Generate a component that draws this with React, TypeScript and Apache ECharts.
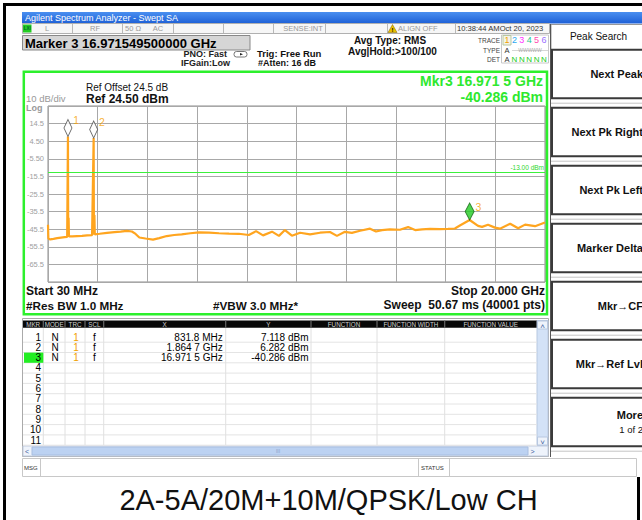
import React, { useEffect, useRef } from "react";
import * as echarts from "echarts";

// ---------- data ----------
const traceFreqGHz = [
  0.03, 0.045, 0.12, 0.25, 0.4, 0.55, 0.7, 0.8, 0.8318, 0.842, 0.858, 0.872,
  1.0, 1.2, 1.4, 1.6, 1.8, 1.8647, 1.875, 1.895, 1.91, 2.1, 2.4, 2.7, 2.95,
  3.2, 3.4, 3.55, 3.7, 3.95, 4.25, 4.5, 4.8, 5.1, 5.4, 5.75, 6.1, 6.5, 6.9,
  7.3, 7.7, 8.1, 8.39, 8.67, 9.03, 9.31, 9.55, 9.83, 10.16, 10.56, 10.96,
  11.36, 11.64, 11.96, 12.24, 12.57, 12.97, 13.21, 13.45, 13.77, 14.17, 14.5,
  14.78, 15.06, 15.38, 15.78, 16.1, 16.38, 16.58, 16.9715, 17.31, 17.47, 17.71,
  17.99, 18.19, 18.6, 18.92, 19.2, 19.6, 20.0,
];
const traceLevelDbm = [
  -43.0, -50.8, -51.3, -51.0, -50.6, -50.3, -50.0, -49.9, 7.118, -49.6, -39.0,
  -49.6, -49.6, -49.4, -49.3, -49.0, -48.9, 6.282, -48.6, -37.5, -48.4, -48.1,
  -47.6, -47.2, -46.9, -46.5, -46.8, -48.2, -50.2, -50.8, -51.4, -50.6, -49.4,
  -48.8, -48.4, -47.8, -47.3, -47.5, -47.8, -48.0, -48.1, -48.8, -46.6, -49.0,
  -46.9, -49.3, -46.0, -49.2, -47.5, -48.4, -47.5, -47.1, -49.3, -47.0, -47.6,
  -46.4, -45.2, -46.8, -46.0, -45.6, -45.8, -44.3, -46.0, -45.6, -45.3, -45.5,
  -45.3, -45.1, -43.4, -40.286, -43.6, -44.2, -43.0, -44.6, -45.2, -42.4, -45.0,
  -42.9, -43.8, -41.7,
];
const markerNames = ["1", "2", "3"];
const markerFreqGHz = [0.8318, 1.8647, 16.9715];
const markerLevelDbm = [7.118, 6.282, -40.286];
const markerXText = ["831.8 MHz", "1.864 7 GHz", "16.971 5 GHz"];
const markerYText = ["7.118 dBm", "6.282 dBm", "-40.286 dBm"];
const yTickLabels = ["14.5", "4.50", "-5.50", "-15.5", "-25.5", "-35.5", "-45.5", "-55.5", "-65.5"];
const limitDbm = -13;
const refLevelDbm = 24.5;
const dbPerDiv = 10;
const startGHz = 0.03;
const stopGHz = 20;
const softKeys = ["Next Peak", "Next Pk Right", "Next Pk Left", "Marker Delta", "Mkr\u2192CF", "Mkr\u2192Ref Lvl"];
const tableHeaders = ["MKR", "MODE", "TRC", "SCL", "X", "Y", "FUNCTION", "FUNCTION WIDTH", "FUNCTION VALUE"];

// ---------- helpers ----------
const FONT = '"Liberation Sans", Arial, sans-serif';
const txt = (text: string, x: number, y: number, size: number, o: any = {}) => ({
  type: "text",
  x,
  y,
  silent: true,
  z: 20,
  style: {
    text,
    fill: o.color ?? "#000",
    fontSize: size,
    fontWeight: o.weight ?? "normal",
    fontFamily: o.family ?? FONT,
    align: o.align ?? "left",
    verticalAlign: "middle",
    textAlign: o.align ?? "left",
    textVerticalAlign: "middle",
  },
});
const rect = (x: number, y: number, w: number, h: number, fill: any, stroke?: string, lw = 1, z = 5) => ({
  type: "rect",
  silent: true,
  z,
  shape: { x, y, width: w, height: h },
  style: { fill, stroke: stroke ?? "none", lineWidth: lw },
});
const ln = (x1: number, y1: number, x2: number, y2: number, stroke: string, lw = 1, z = 6) => ({
  type: "line",
  silent: true,
  z,
  shape: { x1, y1, x2, y2 },
  style: { stroke, lineWidth: lw },
});

function buildGraphics() {
  const g: any[] = [];
  // outer frame
  g.push(rect(3, 3, 639, 3, "#000", undefined, 1, 30));
  g.push(rect(3, 3, 3, 517, "#000", undefined, 1, 30));
  g.push(rect(637, 477, 3, 43, "#000", undefined, 1, 30));
  // title bar
  g.push(
    rect(22, 12, 620, 11.5, {
      type: "linear", x: 0, y: 0, x2: 0, y2: 1,
      colorStops: [{ offset: 0, color: "#4a8ff0" }, { offset: 1, color: "#1e60d6" }],
    })
  );
  g.push(txt("Agilent Spectrum Analyzer - Swept SA", 25, 18, 9, { color: "#fff" }));
  // status row
  g.push(rect(22.5, 23.5, 527, 10, "#f6f6f6", "#b0b0b0"));
  [72, 122, 173, 223, 273, 325, 387, 455].forEach((x) => g.push(ln(x + 0.5, 24, x + 0.5, 33, "#b8b8b8")));
  g.push(rect(23, 24.5, 8.5, 8, "#22cc22"));
  g.push(txt("LXI", 27.2, 28.6, 4.5, { align: "center", weight: "bold", color: "#063" }));
  g.push(txt("L", 47, 28.7, 7.5, { align: "center", color: "#999" }));
  g.push(txt("RF", 95, 28.7, 7.5, { align: "center", color: "#999" }));
  g.push(txt("50 \u03A9", 133, 28.7, 7.5, { align: "center", color: "#999" }));
  g.push(txt("AC", 158, 28.7, 7.5, { align: "center", color: "#999" }));
  g.push(txt("SENSE:INT", 303, 28.7, 7.5, { align: "center", color: "#999" }));
  g.push({ type: "polygon", silent: true, z: 8, shape: { points: [[392.5, 24.5], [388, 32.5], [397, 32.5]] }, style: { fill: "#e8c000", stroke: "#806000", lineWidth: 0.5 } });
  g.push(txt("!", 392.5, 29.5, 6, { align: "center", weight: "bold" }));
  g.push(txt("ALIGN OFF", 398, 28.7, 7.5, { color: "#999" }));
  g.push(txt("10:38:44 AMOct 20, 2023", 457, 28.7, 7.6, { color: "#333" }));
  // marker readout box
  g.push(rect(22.5, 35.5, 227.5, 14.5, "#d6d6d6", "#888"));
  g.push(txt("Marker 3 16.971549500000 GHz", 25, 43, 13, { weight: "bold" }));
  g.push(txt("PNO: Fast", 227, 54.3, 9, { align: "right", weight: "bold", color: "#222" }));
  g.push(txt("IFGain:Low", 230, 63.3, 9, { align: "right", weight: "bold", color: "#222" }));
  g.push({ type: "rect", silent: true, z: 8, shape: { x: 234, y: 51.5, width: 13, height: 5.5, r: 2.5 }, style: { fill: "#fff", stroke: "#555", lineWidth: 0.8 } });
  g.push({ type: "polygon", silent: true, z: 9, shape: { points: [[240, 53], [243, 54.3], [240, 55.6]] }, style: { fill: "#222" } });
  g.push(txt("Trig: Free Run", 257, 53.3, 9.5, { weight: "bold", color: "#111" }));
  g.push(txt("#Atten: 16 dB", 258, 62.5, 9, { weight: "bold", color: "#111" }));
  g.push(txt("Avg Type: RMS", 390, 40.7, 10, { align: "center", weight: "bold", color: "#111" }));
  g.push(txt("Avg|Hold:>100/100", 392.5, 51.7, 10, { align: "center", weight: "bold", color: "#111" }));
  // trace info block
  g.push(txt("TRACE", 500, 40, 6.5, { align: "right", color: "#444" }));
  g.push(txt("TYPE", 500, 50.3, 6.5, { align: "right", color: "#444" }));
  g.push(txt("DET", 500, 59.5, 6.5, { align: "right", color: "#444" }));
  g.push(rect(501.5, 35, 47, 28, "none", "#c8c8c8"));
  g.push(rect(503, 35.5, 8, 9.5, "#f4f4e8", "#b8c8a0"));
  const trColors = ["#f0a000", "#2aa8f0", "#ff30ff", "#20c890", "#ff4ab0", "#9a70ff"];
  trColors.forEach((c, i) => g.push(txt(String(i + 1), 507 + i * 7.4, 40.3, 9, { align: "center", color: c })));
  g.push(txt("A", 507, 50.5, 7.5, { align: "center", color: "#333" }));
  g.push(txt("WWWWW", 530, 50.3, 5, { align: "center", color: "#aaa" }));
  g.push(ln(512, 50.5, 548, 50.5, "#bbb", 0.6));
  g.push(txt("A", 507, 59.5, 7.5, { align: "center", color: "#333" }));
  for (let i = 1; i < 6; i++) g.push(txt("N", 507 + i * 7.4, 59.5, 8, { align: "center", color: "#22cc22" }));

  // right soft key panel
  g.push(ln(550.5, 24, 550.5, 457, "#555", 1));
  g.push(rect(551, 24.5, 95, 25, "#fff", "#999"));
  g.push(txt("Peak Search", 598.5, 36.5, 10, { align: "center", color: "#111" }));
  for (let i = 0; i < 7; i++) {
    const top = 49.7 + 58 * i;
    g.push(rect(552, top, 100, 48.5, "#fff", "#3a3a3a", 2));
    g.push(ln(551, top + 53.5, 642, top + 53.5, "#c4c4c4", 1));
    if (i < 6) g.push(txt(softKeys[i], 643, top + 24.5, 11, { align: "right", weight: "bold", color: "#111" }));
  }
  const moreTop = 49.7 + 58 * 6;
  g.push(txt("More", 643, moreTop + 17.5, 11, { align: "right", weight: "bold", color: "#111" }));
  g.push(txt("1 of 2", 643, moreTop + 31.5, 9.5, { align: "right", color: "#111" }));

  // green plot panel
  g.push(rect(23.8, 71.8, 523.2, 242.5, "none", "#2cf02c", 2.5, 7));
  g.push(txt("Mkr3 16.971 5 GHz", 543, 80.7, 14, { align: "right", weight: "bold", color: "#2ee82e" }));
  g.push(txt("-40.286 dBm", 543, 96.5, 14, { align: "right", weight: "bold", color: "#2ee82e" }));
  g.push(txt("Ref Offset 24.5 dB", 86, 87.3, 10, { color: "#111" }));
  g.push(txt("Ref 24.50 dBm", 86, 98.5, 12, { weight: "bold", color: "#111" }));
  g.push(txt("10 dB/div", 26, 98.8, 9.5, { color: "#999" }));
  g.push(txt("Log", 26, 107.8, 9, { weight: "bold", color: "#999" }));
  g.push(txt("Start 30 MHz", 26, 291, 12, { weight: "bold", color: "#111" }));
  g.push(txt("#Res BW 1.0 MHz", 26, 305, 11.7, { weight: "bold", color: "#111" }));
  g.push(txt("#VBW 3.0 MHz*", 213, 305, 11.7, { weight: "bold", color: "#111" }));
  g.push(txt("Stop 20.000 GHz", 545, 291, 12, { align: "right", weight: "bold", color: "#111" }));
  g.push(txt("Sweep  50.67 ms (40001 pts)", 545, 305, 12, { align: "right", weight: "bold", color: "#111" }));

  // marker table
  const colX = [23, 43.3, 65, 85, 103.7, 225.7, 311, 377, 444.7, 536.7];
  g.push(rect(22.5, 318.5, 526, 138, "#fff", "#aaa"));
  g.push(rect(23, 320.5, 514, 7.2, "#080808"));
  tableHeaders.forEach((h, i) => {
    g.push(txt(h, (colX[i] + colX[i + 1]) / 2, 324.2, 6.3, { align: "center", color: "#d0d0d0" }));
    if (i > 0) g.push(ln(colX[i], 320.5, colX[i], 327.7, "#666", 1.2, 7));
  });
  const rowY = (i: number) => 337 + 10.3 * i;
  for (let i = 0; i < 11; i++) {
    g.push(ln(23, rowY(i) + 5.2, 537, rowY(i) + 5.2, "#e4e4e4", 1));
  }
  for (let i = 1; i < colX.length - 1; i++) g.push(ln(colX[i], 328, colX[i], 445, "#e0e0e0", 1));
  g.push(rect(24, rowY(2) - 5, 19.3, 10.2, "#22ee22", undefined, 1, 6));
  for (let i = 0; i < 11; i++) {
    g.push(txt(String(i + 1), 41, rowY(i), 10, { align: "right", color: "#000" }));
  }
  for (let i = 0; i < markerNames.length; i++) {
    const y = rowY(i);
    g.push(txt("N", 55, y, 10, { align: "center" }));
    g.push(txt("1", 76, y, 10, { align: "center", color: "#f0a000" }));
    g.push(txt("f", 94.3, y, 10, { align: "center" }));
    g.push(txt(markerXText[i], 222.7, y, 10, { align: "right" }));
    g.push(txt(markerYText[i], 308.5, y, 10, { align: "right" }));
  }
  // scrollbars
  g.push(rect(537, 320.5, 11, 125, "#d3e2f7", "#b8c8e0"));
  g.push(rect(537.5, 321, 10, 8, "#eef3fb", "#b8c8e0"));
  g.push(txt("\u02C4", 542.5, 326, 8, { align: "center", color: "#4060a0" }));
  g.push(rect(537.5, 437, 10, 8, "#eef3fb", "#b8c8e0"));
  g.push(txt("\u02C5", 542.5, 442, 8, { align: "center", color: "#4060a0" }));
  g.push(rect(23, 446, 525, 10, "#eef3fb", "#c0cce0"));
  g.push(rect(32, 447, 496, 8, "#bcd2f2", "#a8bee0"));
  g.push(txt("<", 27, 451, 7, { align: "center", color: "#4060a0" }));
  g.push(txt(">", 532.5, 451, 7, { align: "center", color: "#4060a0" }));
  g.push(txt("III", 278, 451, 5, { align: "center", color: "#8aa0c8" }));

  // message bar
  g.push(rect(22.5, 458.5, 614, 18, "#fff", "#c8c8c8"));
  g.push(ln(40.5, 459, 40.5, 476, "#c8c8c8"));
  g.push(ln(418.5, 459, 418.5, 476, "#c8c8c8"));
  g.push(ln(449.5, 459, 449.5, 476, "#c8c8c8"));
  g.push(txt("MSG", 24, 467.5, 6, { color: "#333" }));
  g.push(txt("STATUS", 421, 467.5, 6, { color: "#333" }));

  // caption
  g.push(txt("2A-5A/20M+10M/QPSK/Low CH", 328.5, 500, 29, { align: "center", color: "#111" }));
  return g;
}

export default function App() {
  const ref = useRef<HTMLDivElement>(null);
  useEffect(() => {
    if (!ref.current) return;
    const chart = echarts.init(ref.current, undefined, { renderer: "svg" });
    const trace = traceFreqGHz.map((f, i) => [f, traceLevelDbm[i]]);
    const mk = (idxs: number[]) =>
      idxs.map((i) => ({ name: markerNames[i], value: [markerFreqGHz[i], markerLevelDbm[i]] }));
    const bottom = refLevelDbm - 10 * dbPerDiv;
    chart.setOption({
      animation: false,
      backgroundColor: "#fff",
      textStyle: { fontFamily: FONT },
      grid: { left: 48, top: 106, width: 497, height: 176, show: true, borderColor: "#8c8c8c", borderWidth: 1, backgroundColor: "transparent" },
      xAxis: [
        {
          type: "value", min: 0, max: 10, interval: 1,
          axisLine: { show: false }, axisTick: { show: false }, axisLabel: { show: false },
          splitLine: { show: true, lineStyle: { color: "#a8a8a8", width: 1 } },
        },
        {
          type: "value", min: startGHz, max: stopGHz,
          axisLine: { show: false }, axisTick: { show: false }, axisLabel: { show: false }, splitLine: { show: false },
        },
      ],
      yAxis: {
        type: "value", min: bottom, max: refLevelDbm, interval: dbPerDiv,
        axisLine: { show: false }, axisTick: { show: false },
        axisLabel: {
          color: "#a0a0a0", fontSize: 7.5, margin: 4, fontFamily: FONT,
          formatter: (v: number) => {
            const i = Math.round((refLevelDbm - v) / dbPerDiv) - 1;
            return yTickLabels[i] ?? "";
          },
        },
        splitLine: { show: true, lineStyle: { color: "#a8a8a8", width: 1 } },
      },
      series: [
        {
          type: "line", xAxisIndex: 1, yAxisIndex: 0, data: trace, showSymbol: false, symbol: "none",
          lineStyle: { color: "#ffa51f", width: 2.2 }, z: 3, silent: true,
          markLine: {
            silent: true, symbol: ["none", "none"],
            lineStyle: { color: "#3cf03c", width: 1, type: "solid" },
            label: { show: true, position: "insideEndTop", formatter: "-13.00 dBm", color: "#30d830", fontSize: 6.5, distance: 1 },
            data: [{ yAxis: limitDbm }],
          },
        },
        {
          type: "scatter", xAxisIndex: 1, yAxisIndex: 0, data: mk([0, 1]), z: 5, silent: true,
          symbol: "diamond", symbolSize: [8, 17], symbolOffset: [0, "-50%"],
          itemStyle: { color: "#ffffff", borderColor: "#444", borderWidth: 1 },
          label: { show: true, formatter: "{b}", position: "right", offset: [-4, -8], color: "#f5a000", fontSize: 10.5, fontFamily: FONT },
        },
        {
          type: "scatter", xAxisIndex: 1, yAxisIndex: 0, data: mk([2]), z: 5, silent: true,
          symbol: "diamond", symbolSize: [9, 17], symbolOffset: [0, "-50%"],
          itemStyle: { color: "#22cc22", borderColor: "#186818", borderWidth: 1 },
          label: { show: true, formatter: "{b}", position: "right", offset: [-4, -5], color: "#f5a000", fontSize: 10.5, fontFamily: FONT },
        },
      ],
      graphic: { elements: buildGraphics() },
    });
    return () => chart.dispose();
  }, []);
  return <div ref={ref} style={{ position: "fixed", left: 0, top: 0, width: 642, height: 520 }} />;
}
